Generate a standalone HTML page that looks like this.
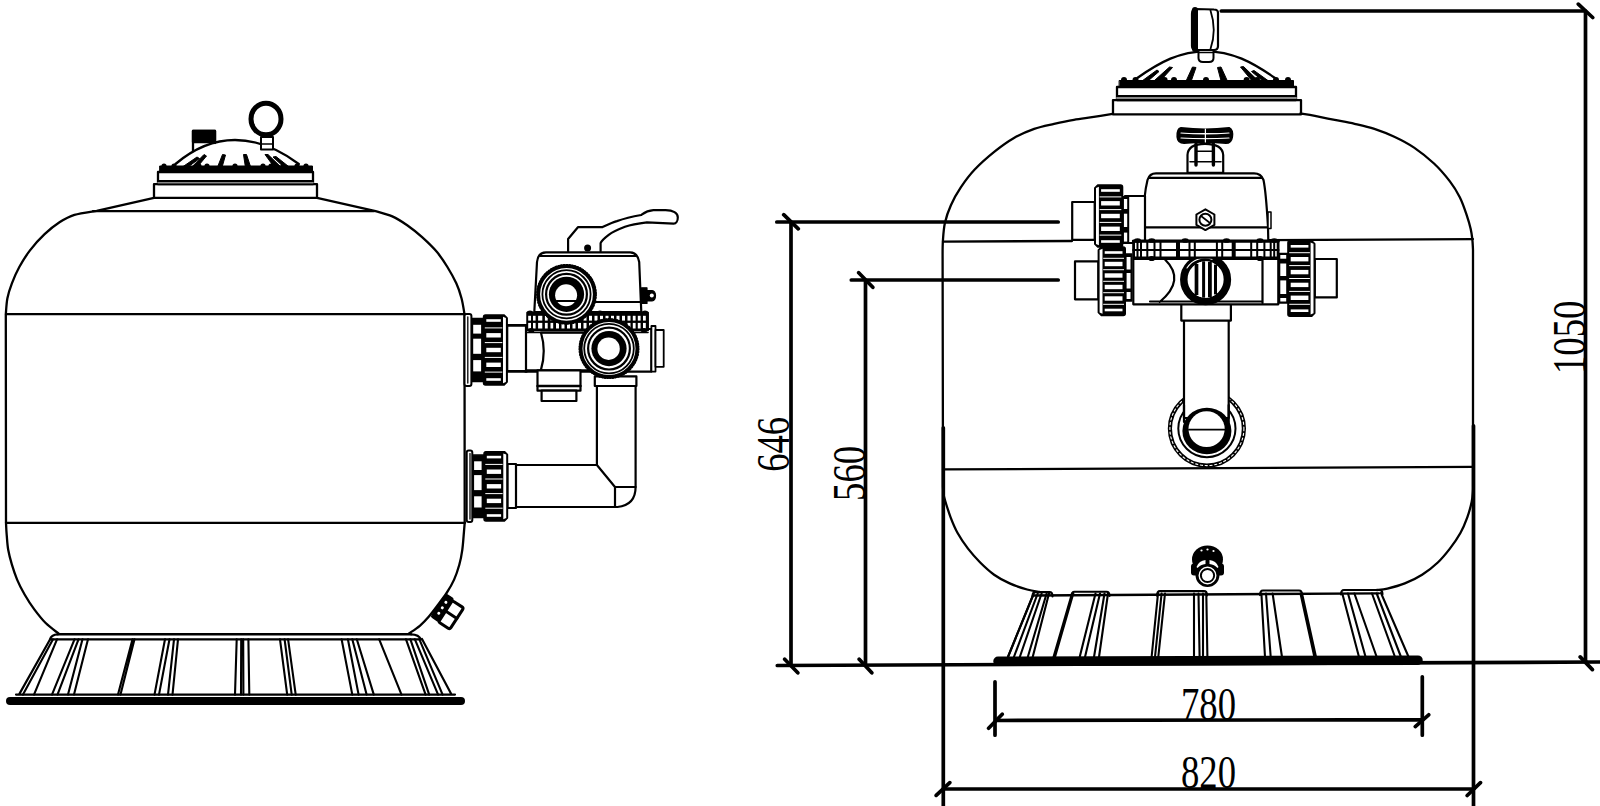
<!DOCTYPE html>
<html><head><meta charset="utf-8"><style>
html,body{margin:0;padding:0;background:#fff;width:1600px;height:806px;overflow:hidden}
svg{display:block}
text{font-family:"Liberation Serif",serif}
</style></head><body>
<svg width="1600" height="806" viewBox="0 0 1600 806">
<g fill="none" stroke="#000" stroke-width="2.3" stroke-linejoin="round" stroke-linecap="round">
<path d="M154,197.9 L96.7,210.8 C93.0,211.5 80.6,213.0 74.4,214.9 C68.2,216.8 64.5,219.1 59.5,222.3 C54.5,225.5 49.6,229.5 44.6,234.2 C39.6,238.9 34.0,245.1 29.8,250.6 C25.6,256.1 22.3,261.6 19.3,267 C16.3,272.4 13.9,278.1 11.9,283.3 C9.9,288.5 8.4,293.1 7.4,298.2 C6.4,303.3 6.1,311.5 5.8,314.2 L6,522.8 C6.1,524.8 6.3,530.4 6.7,534.9 C7.1,539.4 7.3,544.8 8.2,549.8 C9.1,554.8 10.4,559.7 11.9,564.7 C13.4,569.7 15.0,574.6 17.1,579.6 C19.2,584.6 21.7,589.5 24.6,594.5 C27.5,599.5 30.8,604.7 34.3,609.4 C37.8,614.1 41.4,618.8 45.4,622.8 C49.4,626.8 56.3,631.7 58.5,633.5  M317,197.9 L374.5,210.8 C377.5,211.7 386.9,214.0 392.3,216.4 C397.8,218.8 402.2,221.8 407.2,225.3 C412.2,228.8 417.1,232.7 422.1,237.2 C427.1,241.7 432.8,247.1 437,252.1 C441.2,257.1 444.2,261.8 447.4,267 C450.6,272.2 453.9,278.1 456.3,283.3 C458.7,288.5 460.1,293.1 461.5,298.2 C462.9,303.3 464.0,311.5 464.5,314.2 L464.7,522.8 C464.5,524.8 464.1,530.4 463.7,534.9 C463.3,539.4 463.0,544.8 462.3,549.8 C461.6,554.8 460.7,559.7 459.3,564.7 C457.9,569.7 456.2,574.9 454.1,579.6 C452.0,584.3 449.4,588.7 446.6,593 C443.8,597.3 440.5,601.5 437.5,605.5 C434.5,609.5 431.6,613.4 428.7,616.8 C425.8,620.2 423.1,623.0 419.8,625.8 C416.5,628.6 410.8,632.2 409,633.5 "/>
<path d="M93,211.2 L374,211.2 M6,314.2 L465,314.2 M6,522.8 L465,522.8"/>
<rect x="154" y="184.2" width="163" height="13.7"/>
<rect x="158" y="172" width="155" height="12.2"/>
<path d="M158,182.6 L313,182.6" stroke="#888" stroke-width="1.6"/><path d="M158,180.9 L313,180.9" stroke-width="2"/>
<path d="M160,166 L312.5,166 L312.5,172 L160,172 Z" fill="#000" stroke-width="1"/>
<circle cx="164" cy="166" r="2.6" fill="#000" stroke="none"/>
<circle cx="174" cy="166" r="2.6" fill="#000" stroke="none"/>
<circle cx="199" cy="166" r="2.6" fill="#000" stroke="none"/>
<circle cx="207" cy="166" r="2.6" fill="#000" stroke="none"/>
<circle cx="235" cy="166" r="2.6" fill="#000" stroke="none"/>
<circle cx="263" cy="166" r="2.6" fill="#000" stroke="none"/>
<circle cx="271" cy="166" r="2.6" fill="#000" stroke="none"/>
<circle cx="283" cy="166" r="2.6" fill="#000" stroke="none"/>
<circle cx="297" cy="166" r="2.6" fill="#000" stroke="none"/>
<circle cx="306" cy="166" r="2.6" fill="#000" stroke="none"/>
<path d="M193,151 L193,131 L215,131 L215,143" fill="#fff"/>
<rect x="193" y="131" width="22" height="11" fill="#000"/>
<path d="M175.5,164 C192,150 212,140 235,140 C258,140 280,150 298.8,164" fill="none"/>
<path d="M178,170 L197,157 L199.5,158.5 L184,170 Z" fill="#000" stroke-width="1"/>
<path d="M188,171 L204,154.5 L206.5,156 L194,171 Z" fill="#000" stroke-width="1"/>
<path d="M216,171 L222.5,154.5 L225.5,155 L221,171 Z" fill="#000" stroke-width="1"/>
<path d="M246,171 L243.5,154.5 L246.5,154.5 L252,171 Z" fill="#000" stroke-width="1"/>
<path d="M277,171 L265,154.5 L268,154.5 L284,170 Z" fill="#000" stroke-width="1"/>
<path d="M287,170 L273,157 L276,156.5 L293,170 Z" fill="#000" stroke-width="1"/>
<rect x="261" y="137" width="12" height="12.5" fill="#fff" stroke-width="2"/>
<path d="M261,144 L273,144" stroke-width="1.6"/>
<ellipse cx="266" cy="119" rx="15" ry="15.8" stroke-width="5"/>
<path d="M58,634.3 L411,634.3" stroke-width="2.4"/>
<path d="M50.5,639.3 L420.5,639.3 M50,639.5 Q51,634.5 58,634.3 M411,634.3 Q419,634.5 421,639.5" stroke-width="2.2"/>
<path d="M50,639.5 L19,694.6 M422,639 L451.5,694.6 M16,694.6 L455,694.6" stroke-width="2.2"/>
<path d="M53,639.3 L23,694.6 M57,639.3 L34,694.6 M74.5,639.3 L52,694.6 M78.5,639.3 L57.5,694.6 M82.5,639.3 L68,694.6 M88,639.3 L74,694.6 M132.5,639.3 L118,694.6 M134.5,639.3 L120.5,694.6 M165,639.3 L154.5,694.6 M169.5,639.3 L159,694.6 M174,639.3 L168,694.6 M178,639.3 L172.5,694.6 M236.7,639.3 L235,694.6 M241.2,639.3 L241,694.6 M243.2,639.3 L243.4,694.6 M248.4,639.3 L249.3,694.6 M280,639.3 L287.2,694.6 M284.6,639.3 L291.7,694.6 M288.1,639.3 L295.7,694.6 M341.6,639.3 L352.3,694.6 M347.9,639.3 L358.6,694.6 M352.3,639.3 L366.6,694.6 M356.8,639.3 L373.8,694.6 M379.2,639.3 L401.5,694.6 M406,639.3 L425.6,694.6 M410.4,639.3 L429.2,694.6 M414.9,639.3 L438.1,694.6 M419.4,639.3 L442.6,694.6 " stroke-width="2.1"/>
<path d="M10,701 L461,701" stroke-width="8"/>
</g>
<g fill="#fff" stroke="#000" stroke-width="2.2" stroke-linejoin="round" stroke-linecap="round">
<path d="M568.1,251.2 L568.1,239 L577.9,227.2 L602.2,227.2 C608,224.5 612,222.5 616.9,221.1 C625,218.3 633,216.5 641.2,215 C644,213 647,210.6 653.4,210.2 L665.6,210.2 C673,210.2 678,213 677.8,217.5 C677.8,221 676,223.6 673.7,223.6 L646.9,222.3 C638,223.3 631,224.5 625,226.8 C618,229.5 612.5,232 608.7,234.9 C604,238.5 601.5,241 600.6,243.1 L600.6,251.2"/>
<circle cx="587.6" cy="248" r="2.4" fill="#000"/>
<path d="M534.3,312 L537,262 Q538,252.3 546,252.3 L630,252.3 Q637.5,252.3 639.2,262 L641.3,312 Z"/>
<path d="M540,256 L636,256 M595,302 L641.3,302" fill="none"/>
<path d="M641.5,287.8 L647,287.8 L647,290.5 L652,290.5 Q655.5,291 655.5,295.6 Q655.5,300.5 652,301 L647,301 L647,303.5 L641.5,303.5 Z" fill="#000" stroke-width="1.2"/>
<circle cx="651.8" cy="295.6" r="2" fill="#fff" stroke="none"/>
<rect x="506.8" y="325.2" width="20" height="46.4"/>
<rect x="525.2" y="329" width="126.2" height="42.6"/>
<path d="M541,332.7 Q546.5,351 541,369.6 M541,332.7 L600,332.7 M525.2,370.3 L600,370.3" fill="none"/>
<rect x="651.4" y="326" width="4.1" height="45.6" stroke-width="1.8"/>
<rect x="655.5" y="330" width="8.2" height="36.8" stroke-width="1.8"/>
<rect x="537.5" y="370.3" width="43" height="20.4"/>
<path d="M537.5,386 L580.5,386" fill="none" stroke-width="2.5"/>
<rect x="541.6" y="390.7" width="34.8" height="10.3"/>
<path d="M596.9,386 L596.9,465 L514.7,465 L514.7,507 L617.5,507 Q635.6,505 635.6,487 L635.6,386 Z"/>
<path d="M596.9,465 L615,487 L615,507 M615,487 L635.6,487" fill="none"/>
<rect x="594.8" y="376.4" width="41.6" height="9.6"/>
<rect x="527" y="312.4" width="121.2" height="18" fill="#000" stroke-width="1.5"/>
<path d="M527,332.5 L648,332.5" stroke-width="1.6"/>
<rect x="528.2" y="315.8" width="2.8" height="4.8" fill="#fff" stroke="none"/>
<rect x="528.2" y="322.9" width="2.8" height="5.6" fill="#fff" stroke="none"/>
<rect x="533" y="315.8" width="2.6" height="4.8" fill="#fff" stroke="none"/>
<rect x="533" y="322.9" width="2.6" height="5.6" fill="#fff" stroke="none"/>
<rect x="538.1" y="315.8" width="4.2" height="4.8" fill="#fff" stroke="none"/>
<rect x="538.1" y="322.9" width="4.2" height="5.6" fill="#fff" stroke="none"/>
<rect x="544.9" y="315.8" width="2.8" height="4.8" fill="#fff" stroke="none"/>
<rect x="544.9" y="322.9" width="2.8" height="5.6" fill="#fff" stroke="none"/>
<rect x="550.5" y="315.8" width="2.7" height="4.8" fill="#fff" stroke="none"/>
<rect x="550.5" y="322.9" width="2.7" height="5.6" fill="#fff" stroke="none"/>
<rect x="556" y="315.8" width="3" height="4.8" fill="#fff" stroke="none"/>
<rect x="556" y="322.9" width="3" height="5.6" fill="#fff" stroke="none"/>
<rect x="561.5" y="315.8" width="3" height="4.8" fill="#fff" stroke="none"/>
<rect x="561.5" y="322.9" width="3" height="5.6" fill="#fff" stroke="none"/>
<rect x="567" y="315.8" width="3" height="4.8" fill="#fff" stroke="none"/>
<rect x="567" y="322.9" width="3" height="5.6" fill="#fff" stroke="none"/>
<rect x="572.5" y="315.8" width="3" height="4.8" fill="#fff" stroke="none"/>
<rect x="572.5" y="322.9" width="3" height="5.6" fill="#fff" stroke="none"/>
<rect x="578" y="315.8" width="3" height="4.8" fill="#fff" stroke="none"/>
<rect x="578" y="322.9" width="3" height="5.6" fill="#fff" stroke="none"/>
<rect x="583.5" y="315.8" width="3" height="4.8" fill="#fff" stroke="none"/>
<rect x="583.5" y="322.9" width="3" height="5.6" fill="#fff" stroke="none"/>
<rect x="589" y="315.8" width="3" height="4.8" fill="#fff" stroke="none"/>
<rect x="589" y="322.9" width="3" height="5.6" fill="#fff" stroke="none"/>
<rect x="594.5" y="315.8" width="3" height="4.8" fill="#fff" stroke="none"/>
<rect x="594.5" y="322.9" width="3" height="5.6" fill="#fff" stroke="none"/>
<rect x="600" y="315.8" width="3" height="4.8" fill="#fff" stroke="none"/>
<rect x="600" y="322.9" width="3" height="5.6" fill="#fff" stroke="none"/>
<rect x="605.5" y="315.8" width="3" height="4.8" fill="#fff" stroke="none"/>
<rect x="605.5" y="322.9" width="3" height="5.6" fill="#fff" stroke="none"/>
<rect x="611" y="315.8" width="3" height="4.8" fill="#fff" stroke="none"/>
<rect x="611" y="322.9" width="3" height="5.6" fill="#fff" stroke="none"/>
<rect x="616.5" y="315.8" width="3" height="4.8" fill="#fff" stroke="none"/>
<rect x="616.5" y="322.9" width="3" height="5.6" fill="#fff" stroke="none"/>
<rect x="622" y="315.8" width="3" height="4.8" fill="#fff" stroke="none"/>
<rect x="622" y="322.9" width="3" height="5.6" fill="#fff" stroke="none"/>
<rect x="627.5" y="315.8" width="3" height="4.8" fill="#fff" stroke="none"/>
<rect x="627.5" y="322.9" width="3" height="5.6" fill="#fff" stroke="none"/>
<rect x="632.8" y="315.8" width="2.8" height="4.8" fill="#fff" stroke="none"/>
<rect x="632.8" y="322.9" width="2.8" height="5.6" fill="#fff" stroke="none"/>
<rect x="637.8" y="315.8" width="2.8" height="4.8" fill="#fff" stroke="none"/>
<rect x="637.8" y="322.9" width="2.8" height="5.6" fill="#fff" stroke="none"/>
<rect x="643" y="315.8" width="2.8" height="4.8" fill="#fff" stroke="none"/>
<rect x="643" y="322.9" width="2.8" height="5.6" fill="#fff" stroke="none"/>
<ellipse cx="531.3" cy="330.5" rx="3" ry="2.6" fill="#000" stroke="none"/>
<ellipse cx="644" cy="330.5" rx="3" ry="2.6" fill="#000" stroke="none"/>
<ellipse cx="530" cy="312.3" rx="3" ry="1.8" fill="#000" stroke="none"/>
<ellipse cx="600" cy="312.3" rx="3" ry="1.8" fill="#000" stroke="none"/>
<ellipse cx="645" cy="312.3" rx="3" ry="1.8" fill="#000" stroke="none"/>
<circle cx="566.5" cy="294.3" r="28.2" stroke-width="3.6"/>
<circle cx="566.5" cy="294.3" r="29.8" fill="none" stroke-width="1.2" stroke-dasharray="1.4 1.4"/>
<circle cx="566.5" cy="294.3" r="24.1" fill="none" stroke-width="1.8"/>
<circle cx="566.5" cy="294.3" r="20.4" fill="none" stroke-width="2.2"/>
<circle cx="566.5" cy="294.3" r="17.6" fill="#000" stroke="none"/>
<circle cx="566.1" cy="295.2" r="11.0" fill="#fff" stroke="none"/>
<path d="M556.7,301 L576.3,301" stroke-width="2.2"/>
<circle cx="609" cy="348.6" r="28.3" stroke-width="3.6"/>
<circle cx="609" cy="348.6" r="29.900000000000002" fill="none" stroke-width="1.2" stroke-dasharray="1.4 1.4"/>
<circle cx="609" cy="348.6" r="24.8" fill="none" stroke-width="1.8"/>
<circle cx="609" cy="348.6" r="20.9" fill="none" stroke-width="2.2"/>
<circle cx="609" cy="348.6" r="17.6" fill="#000" stroke="none"/>
<circle cx="608.6" cy="348.70000000000005" r="11.2" fill="#fff" stroke="none"/>
<rect x="507.2" y="325.6" width="18.80000000000001" height="45.39999999999998"/>
<rect x="471.4" y="318.5" width="12.100000000000023" height="63" fill="#000" stroke-width="1.5"/>
<rect x="473.2" y="324.8" width="7.9" height="8.8" fill="#fff" stroke="none"/>
<rect x="473.2" y="338.7" width="7.9" height="15.1" fill="#fff" stroke="none"/>
<rect x="473.2" y="360.1" width="7.9" height="11.3" fill="#fff" stroke="none"/>
<rect x="464.5" y="314" width="6.9" height="72.0" rx="2" stroke-width="2"/>
<path d="M467.8,317 L467.8,383" stroke-width="1.3"/>
<path d="M485.5,315 L504.2,315 L507.2,318.0 L507.2,382.0 L504.2,385 L485.5,385 Q483.5,385 483.5,383 L483.5,317 Q483.5,315 485.5,315 Z" fill="#000" stroke-width="1.4"/>
<path d="M505.9,318.0 L503.0,316.8 L503.0,383.2 L505.9,382.0 Z" fill="#fff" stroke="none"/>
<rect x="486.3" y="319.2" width="14.5" height="2.6" fill="#fff" stroke="none"/>
<rect x="484.8" y="327.4" width="17.5" height="1" fill="#fff" stroke="none"/>
<rect x="486.3" y="333.1" width="14.5" height="4.4" fill="#fff" stroke="none"/>
<rect x="484.8" y="342.1" width="17.5" height="1" fill="#fff" stroke="none"/>
<rect x="486.3" y="347.8" width="14.5" height="4.4" fill="#fff" stroke="none"/>
<rect x="484.8" y="356.9" width="17.5" height="1" fill="#fff" stroke="none"/>
<rect x="486.3" y="362.6" width="14.5" height="4.4" fill="#fff" stroke="none"/>
<rect x="484.8" y="371.6" width="17.5" height="1" fill="#fff" stroke="none"/>
<rect x="486.3" y="378.2" width="14.5" height="2.6" fill="#fff" stroke="none"/>
<rect x="507.5" y="464" width="8.5" height="44"/>
<rect x="472.3" y="455.1" width="11.699999999999989" height="62.39999999999998" fill="#000" stroke-width="1.5"/>
<rect x="474.1" y="461.3" width="7.5" height="8.7" fill="#fff" stroke="none"/>
<rect x="474.1" y="475.1" width="7.5" height="15.0" fill="#fff" stroke="none"/>
<rect x="474.1" y="496.3" width="7.5" height="11.2" fill="#fff" stroke="none"/>
<rect x="466.7" y="450.6" width="5.6" height="71.4" rx="2" stroke-width="2"/>
<path d="M470.0,453.6 L470.0,519" stroke-width="1.3"/>
<path d="M486,451.6 L504.5,451.6 L507.5,454.6 L507.5,518.0 L504.5,521 L486,521 Q484,521 484,519 L484,453.6 Q484,451.6 486,451.6 Z" fill="#000" stroke-width="1.4"/>
<path d="M506.2,454.6 L503.3,453.40000000000003 L503.3,519.2 L506.2,518.0 Z" fill="#fff" stroke="none"/>
<rect x="486.8" y="455.8" width="14.3" height="2.6" fill="#fff" stroke="none"/>
<rect x="485.3" y="463.9" width="17.3" height="1" fill="#fff" stroke="none"/>
<rect x="486.8" y="469.5" width="14.3" height="4.4" fill="#fff" stroke="none"/>
<rect x="485.3" y="478.5" width="17.3" height="1" fill="#fff" stroke="none"/>
<rect x="486.8" y="484.1" width="14.3" height="4.4" fill="#fff" stroke="none"/>
<rect x="485.3" y="493.1" width="17.3" height="1" fill="#fff" stroke="none"/>
<rect x="486.8" y="498.7" width="14.3" height="4.4" fill="#fff" stroke="none"/>
<rect x="485.3" y="507.7" width="17.3" height="1" fill="#fff" stroke="none"/>
<rect x="486.8" y="514.2" width="14.3" height="2.6" fill="#fff" stroke="none"/>
<g transform="translate(448.5,613) rotate(33)"><rect x="-12.5" y="-14.5" width="9" height="27" rx="1.5" fill="#000" stroke-width="1.5"/><circle cx="-8" cy="-7.5" r="1.5" fill="#fff" stroke="none"/><circle cx="-8" cy="-1" r="1.5" fill="#fff" stroke="none"/><circle cx="-8" cy="5.5" r="1.5" fill="#fff" stroke="none"/><rect x="-3.5" y="-12.5" width="13.5" height="25.5" rx="2" stroke-width="3"/><path d="M-3.5,0 L10,0" stroke-width="3"/></g>
</g>
<g fill="none" stroke="#000" stroke-width="2.3" stroke-linejoin="round" stroke-linecap="round">
<path d="M1112.6,113.9 C1109.5,114.4 1100.2,115.9 1093.8,116.9 C1087.3,117.9 1080.5,118.7 1073.9,119.8 C1067.3,120.9 1060.7,122.3 1054.1,123.8 C1047.5,125.3 1040.8,126.5 1034.2,128.8 C1027.6,131.1 1021.0,133.9 1014.4,137.7 C1007.8,141.5 1001.1,146.3 994.5,151.6 C987.9,156.9 980.3,163.6 974.7,169.5 C969.1,175.4 964.8,181.4 960.8,187.3 C956.8,193.2 953.5,199.2 950.9,205.2 C948.2,211.1 946.2,217.1 944.9,223 C943.6,228.9 943.3,235.1 942.9,240.9 C942.5,246.7 942.6,255.2 942.6,258  L943,487 C943.1,488.3 943.2,492.4 943.6,494.8 C944.0,497.2 944.2,497.9 945.4,501.7 C946.6,505.4 948.6,512.1 950.6,517.3 C952.6,522.5 954.7,527.8 957.6,533 C960.5,538.2 964.2,543.7 968,548.6 C971.8,553.5 975.9,558.1 980.2,562.5 C984.6,566.9 989.2,571.2 994.1,574.7 C999.0,578.2 1004.2,580.9 1009.7,583.4 C1015.2,585.9 1022.2,588.1 1027.1,589.5 C1032.0,590.9 1037.3,591.6 1039.3,592  M1300.5,113.5 C1302.9,113.9 1309.2,114.8 1314.9,115.9 C1320.6,117.0 1328.1,118.6 1334.7,119.9 C1341.3,121.2 1348.0,122.3 1354.6,123.8 C1361.2,125.3 1367.8,126.7 1374.4,128.8 C1381.0,131.0 1387.7,133.6 1394.3,136.7 C1400.9,139.8 1407.5,143.1 1414.1,147.6 C1420.7,152.1 1428.0,157.9 1434,163.5 C1440.0,169.1 1445.6,175.8 1449.9,181.4 C1454.2,187.0 1457.0,191.7 1459.8,197.3 C1462.6,202.9 1464.9,209.8 1466.7,215.1 C1468.5,220.4 1469.8,225.0 1470.7,229 C1471.6,233.0 1471.9,235.5 1472.3,239 C1472.7,242.5 1472.9,248.2 1473,250  L1473,486 C1473.0,486.9 1473.1,488.7 1472.9,491.3 C1472.7,493.9 1472.6,497.4 1471.7,501.7 C1470.8,506.0 1469.2,512.1 1467.3,517.3 C1465.4,522.5 1463.3,527.8 1460.4,533 C1457.5,538.2 1453.7,543.7 1449.9,548.6 C1446.1,553.5 1442.4,558.1 1437.8,562.5 C1433.2,566.9 1427.6,571.2 1422.1,574.7 C1416.6,578.2 1410.6,581.1 1404.8,583.4 C1399.0,585.7 1392.0,587.5 1387.4,588.6 C1382.8,589.7 1378.7,589.8 1377,590 "/>
<path d="M943,241.6 L1072,241 M1269,240.1 L1473,239.1 M943,469.4 L1473,466.8"/>
<rect x="1113" y="100.1" width="188" height="14.3"/>
<rect x="1117" y="87" width="179" height="13.1"/>
<path d="M1117,98.1 L1296,98.1" stroke="#888" stroke-width="2"/><path d="M1117,96.1 L1296,96.1" stroke-width="2"/>
<path d="M1119.5,80.5 L1293.5,80.5 L1293.5,87 L1119.5,87 Z" fill="#000" stroke-width="1"/>
<circle cx="1124" cy="80" r="3" fill="#000" stroke="none"/>
<circle cx="1135.5" cy="80" r="3" fill="#000" stroke="none"/>
<circle cx="1164.6" cy="80" r="3" fill="#000" stroke="none"/>
<circle cx="1174" cy="80" r="3" fill="#000" stroke="none"/>
<circle cx="1206" cy="80" r="3" fill="#000" stroke="none"/>
<circle cx="1246.6" cy="80" r="3" fill="#000" stroke="none"/>
<circle cx="1257" cy="80" r="3" fill="#000" stroke="none"/>
<circle cx="1276" cy="80" r="3" fill="#000" stroke="none"/>
<circle cx="1288" cy="80" r="3" fill="#000" stroke="none"/>
<path d="M1137.3,78 C1160,62 1180,51.3 1206,51.3 C1232,51.3 1252,62 1275,78" fill="none"/>
<path d="M1142,81 L1157,70 L1159,71.5 L1148,81 Z" fill="#000" stroke-width="1"/>
<path d="M1150,84.5 L1169.5,67 L1172.5,67.5 L1157,84.5 Z" fill="#000" stroke-width="1"/>
<path d="M1184.5,84.5 L1192.5,67 L1196,67.5 L1190,84.5 Z" fill="#000" stroke-width="1"/>
<path d="M1222,84.5 L1217.5,67.5 L1221,67 L1229,84.5 Z" fill="#000" stroke-width="1"/>
<path d="M1255,84.5 L1240.5,67 L1243.5,66.5 L1262,84.5 Z" fill="#000" stroke-width="1"/>
<path d="M1264,82 L1251.5,71.5 L1254,70.5 L1270,82 Z" fill="#000" stroke-width="1"/>
<path d="M1198.5,47 L1198.5,58 Q1198.5,62 1203,62 L1209,62 Q1213.5,62 1213.5,58 L1213.5,47 Z" fill="#fff" stroke-width="2"/>
<path d="M1198.5,52.5 L1213.5,52.5" stroke-width="1.6"/>
<path d="M1195,9 Q1192,9 1192,14 L1192,46 Q1192,50 1196,50 L1214,50 Q1218,50 1218,46 L1218,13 Q1218,9.5 1214,9.5 Z" fill="#fff" stroke-width="2.2"/>
<path d="M1195,10 L1195,49" stroke-width="6"/>
<path d="M1210.5,10.5 Q1217,30 1210.5,49" stroke-width="1.8"/>
<path d="M1033,595.5 L1379,593.3" stroke-width="2.3"/>
<path d="M1033,595.5 L1008,657 M1381,593 L1408.4,656.5" stroke-width="2.1"/>
<path d="M1032.5,596.5 Q1032.5,592.1 1035.5,592.1 L1049.5,592.1 Q1052.5,592.1 1052.5,596.4 M1071.5,596.3 Q1071.5,591.7 1074.5,591.7 L1106.5,591.7 Q1109.5,591.7 1109.5,596.0 M1157,595.7 Q1157,591.1 1160,591.1 L1204,591.1 Q1207,591.1 1207,595.4 M1260,595.1 Q1260,590.5 1263,590.5 L1299,590.5 Q1302,590.5 1302,594.8 M1341,594.5 Q1341,590.0 1344,590.0 L1379.5,590.0 Q1382.5,590.0 1382.5,594.3 " fill="none" stroke-width="2.1"/>
<path d="M1033.7,593.5 L1007.9,657 M1037.7,593.5 L1013.9,657 M1041.6,593.5 L1019.8,657 M1046.6,593.5 L1027.8,657 M1049,593.5 L1032.7,657 M1072,593.5 L1053.5,657 M1073.3,593.5 L1055,657 M1095.5,593.5 L1079.7,657 M1100,593.5 L1085,657 M1104.5,593.5 L1094,657 M1108,593.5 L1099,657 M1158,593.5 L1151.6,657 M1161.6,593.5 L1155,657 M1165,593.5 L1158.3,657 M1194,593.5 L1194,657 M1198.5,593.5 L1199.6,657 M1203,593.5 L1203,657 M1206.3,593.5 L1207.4,657 M1261.4,593.5 L1265,657 M1266,593.5 L1270.7,657 M1272.6,593.5 L1282,657 M1300.5,593.5 L1314.4,657 M1302,593.5 L1316,657 M1342.3,593.5 L1359,657 M1348,593.5 L1365.6,657 M1354.4,593.5 L1376.7,657 M1372,593.5 L1395,657 M1376.7,593.5 L1401,657 " stroke-width="2.1"/>
<path d="M998,661.3 L1418,660.2" stroke-width="9.5"/>
</g>
<g fill="#fff" stroke="#000" stroke-width="2.2" stroke-linejoin="round" stroke-linecap="round">
<circle cx="1206.9" cy="428.6" r="37" stroke-width="4.2"/>
<circle cx="1206.9" cy="428.6" r="37" fill="none" stroke="#fff" stroke-width="1.1" stroke-dasharray="2.2 2.6"/>
<circle cx="1206.9" cy="428.6" r="28.6" fill="none" stroke-width="2"/>
<rect x="1184" y="315" width="44.7" height="103" />
<ellipse cx="1206.9" cy="431" rx="24.5" ry="23.2" fill="#000" stroke="none"/>
<ellipse cx="1206.6" cy="429.1" rx="18.1" ry="17.9" fill="#fff" stroke="none"/>
<path d="M1184,405 L1184,422 M1228.7,405 L1228.7,422" fill="none"/>
<path d="M1189,429.7 L1224.5,429.7" fill="none" stroke-width="1.8"/>
<rect x="1181.3" y="304" width="49.6" height="16.6"/>
<path d="M1187.5,172.8 L1187.5,155 Q1188,143.8 1205,143.8 Q1222.5,143.8 1223.2,155 L1223.2,172.8 Z"/>
<path d="M1196,144 L1196,165 M1213.4,144 L1213.4,165" stroke-width="3.4"/>
<path d="M1197,151.3 L1214,151.3 M1190,161.7 L1221,161.7" stroke-width="1.6"/>
<path d="M1181,128 Q1205,131 1229,128 Q1233,130 1232,137 Q1231,143 1226,143 Q1205,141 1184,143 Q1178,143 1177.5,137 Q1177,129 1181,128 Z" fill="#000"/>
<path d="M1181,133 Q1205,135 1229,133 M1181,138 Q1205,139.5 1229,138 M1205.4,129 L1205.4,142" stroke="#fff" stroke-width="1.2"/>
<path d="M1143.2,241 L1143.2,222 C1143.5,205 1145,190 1147.5,180 Q1149.5,173.4 1156,173.4 L1254,173.4 Q1261,173.4 1263.5,180 C1266,192 1267,210 1268,227 L1268.3,241 Z"/>
<path d="M1149.5,177.9 L1262,177.9 M1143.2,227.4 L1268,227.4" fill="none"/>
<path d="M1205.4,209.3 L1214.4,214.5 L1214.4,224.9 L1205.4,230.1 L1196.4,224.9 L1196.4,214.5 Z" stroke-width="2"/>
<circle cx="1205.4" cy="219.7" r="6" fill="none" stroke-width="2"/>
<path d="M1201,216 L1210,223" stroke-width="1.6"/>
<rect x="1268" y="212" width="3" height="16.6" stroke-width="1.5"/>
<rect x="1125" y="196" width="20" height="47"/>
<rect x="1133.3" y="258.9" width="145" height="45.4"/>
<path d="M1165,259.5 Q1186,280 1159.7,302 M1262.5,259 L1262.5,303 M1150,301.5 L1262,301.5" fill="none"/>
<circle cx="1205.6" cy="279.6" r="21.8" fill="#fff" stroke-width="7.5"/>
<path d="M1187,268 A21.4,21.4 0 0 1 1212,259.2" fill="none" stroke="#fff" stroke-width="1.1"/>
<ellipse cx="1205.6" cy="279.5" rx="17" ry="18.3" fill="#fff" stroke="none"/>
<path d="M1196.5,264.0 L1196.5,295.0" stroke-width="3.7" stroke-linecap="butt"/>
<path d="M1203.6,261.3 L1203.6,297.7" stroke-width="3" stroke-linecap="butt"/>
<path d="M1209.9,261.8 L1209.9,297.2" stroke-width="3.8" stroke-linecap="butt"/>
<path d="M1215.5,264.6 L1215.5,294.4" stroke-width="3" stroke-linecap="butt"/>
<rect x="1133.3" y="241.3" width="145.1" height="16.4" fill="#fff" stroke-width="2.2"/>
<path d="M1133.3,241 L1278.4,241" stroke-width="3"/>
<path d="M1133.3,250 L1278.4,250" stroke-width="2.2"/>
<path d="M1134,241 L1134,257.5 M1137.5,241 L1137.5,257.5 M1141,241 L1141,257.5 M1147.3,241 L1147.3,257.5 M1154.5,241 L1154.5,257.5 M1160.5,241 L1160.5,257.5 M1177,241 L1177,257.5 M1179,241 L1179,257.5 M1189.5,241 L1189.5,257.5 M1194.8,241 L1194.8,257.5 M1277.7,241 L1277.7,257.5 M1274.2,241 L1274.2,257.5 M1270.7,241 L1270.7,257.5 M1264.4,241 L1264.4,257.5 M1257.2,241 L1257.2,257.5 M1251.2,241 L1251.2,257.5 M1234.7,241 L1234.7,257.5 M1232.7,241 L1232.7,257.5 M1222.2,241 L1222.2,257.5 M1216.9,241 L1216.9,257.5 " stroke-width="2"/>
<ellipse cx="1137.5" cy="240.5" rx="3.5" ry="2.3" fill="#000" stroke="none"/>
<ellipse cx="1274.2" cy="240.5" rx="3.5" ry="2.3" fill="#000" stroke="none"/>
<ellipse cx="1151.7" cy="240.5" rx="3.5" ry="2.3" fill="#000" stroke="none"/>
<ellipse cx="1260.0" cy="240.5" rx="3.5" ry="2.3" fill="#000" stroke="none"/>
<ellipse cx="1185.2" cy="240.5" rx="3.5" ry="2.3" fill="#000" stroke="none"/>
<ellipse cx="1226.5" cy="240.5" rx="3.5" ry="2.3" fill="#000" stroke="none"/>
<ellipse cx="1151.7" cy="258.5" rx="3.3" ry="2.6" fill="#000" stroke="none"/>
<ellipse cx="1260.0" cy="258.5" rx="3.3" ry="2.6" fill="#000" stroke="none"/>
<rect x="1072.2" y="202" width="22.5" height="37.8"/>
<rect x="1122.6" y="196.6" width="5.9" height="46.8" fill="#000" stroke-width="1.4"/>
<rect x="1123.9" y="199" width="3.3" height="10.0" fill="#fff" stroke="none"/>
<rect x="1123.9" y="213.7" width="3.3" height="13.3" fill="#fff" stroke="none"/>
<rect x="1123.9" y="232.6" width="3.3" height="9.0" fill="#fff" stroke="none"/>
<path d="M1097.7,185 L1120.6,185 Q1122.6,185 1122.6,187 L1122.6,245 Q1122.6,247 1120.6,247 L1097.7,247 L1094.7,244.0 L1094.7,188.0 Z" fill="#000" stroke-width="1.4"/>
<path d="M1096.0,188.0 L1098.9,186.8 L1098.9,245.2 L1096.0,244.0 Z" fill="#fff" stroke="none"/>
<rect x="1101.1000000000001" y="189.2" width="18.7" height="2.6" fill="#fff" stroke="none"/>
<rect x="1099.6" y="196.4" width="21.7" height="1" fill="#fff" stroke="none"/>
<rect x="1101.1000000000001" y="201.1" width="18.7" height="4.4" fill="#fff" stroke="none"/>
<rect x="1099.6" y="209.1" width="21.7" height="1" fill="#fff" stroke="none"/>
<rect x="1101.1000000000001" y="213.8" width="18.7" height="4.4" fill="#fff" stroke="none"/>
<rect x="1099.6" y="221.9" width="21.7" height="1" fill="#fff" stroke="none"/>
<rect x="1101.1000000000001" y="226.6" width="18.7" height="4.4" fill="#fff" stroke="none"/>
<rect x="1099.6" y="234.6" width="21.7" height="1" fill="#fff" stroke="none"/>
<rect x="1101.1000000000001" y="240.2" width="18.7" height="2.6" fill="#fff" stroke="none"/>
<rect x="1075" y="261.4" width="23.3" height="37.9"/>
<rect x="1125.3" y="254" width="6.5" height="47.0" fill="#000" stroke-width="1.4"/>
<rect x="1126.6" y="257" width="3.9" height="12.5" fill="#fff" stroke="none"/>
<rect x="1126.6" y="273" width="3.9" height="15.5" fill="#fff" stroke="none"/>
<rect x="1126.6" y="292" width="3.9" height="7.0" fill="#fff" stroke="none"/>
<path d="M1101.3,247 L1123.3,247 Q1125.3,247 1125.3,249 L1125.3,313.5 Q1125.3,315.5 1123.3,315.5 L1101.3,315.5 L1098.3,312.5 L1098.3,250.0 Z" fill="#000" stroke-width="1.4"/>
<path d="M1099.6,250.0 L1102.5,248.8 L1102.5,313.7 L1099.6,312.5 Z" fill="#fff" stroke="none"/>
<rect x="1104.7" y="251.2" width="17.8" height="2.6" fill="#fff" stroke="none"/>
<rect x="1103.2" y="257.8" width="20.8" height="1" fill="#fff" stroke="none"/>
<rect x="1104.7" y="261.8" width="17.8" height="4.4" fill="#fff" stroke="none"/>
<rect x="1103.2" y="269.2" width="20.8" height="1" fill="#fff" stroke="none"/>
<rect x="1104.7" y="273.3" width="17.8" height="4.4" fill="#fff" stroke="none"/>
<rect x="1103.2" y="280.8" width="20.8" height="1" fill="#fff" stroke="none"/>
<rect x="1104.7" y="284.8" width="17.8" height="4.4" fill="#fff" stroke="none"/>
<rect x="1103.2" y="292.2" width="20.8" height="1" fill="#fff" stroke="none"/>
<rect x="1104.7" y="296.3" width="17.8" height="4.4" fill="#fff" stroke="none"/>
<rect x="1103.2" y="303.8" width="20.8" height="1" fill="#fff" stroke="none"/>
<rect x="1104.7" y="308.7" width="17.8" height="2.6" fill="#fff" stroke="none"/>
<rect x="1314.8" y="259" width="22" height="38.4"/>
<rect x="1279" y="253.5" width="8.5" height="49.5" fill="#000" stroke-width="1.4"/>
<rect x="1280.3" y="255" width="5.9" height="3.7" fill="#fff" stroke="none"/>
<rect x="1280.3" y="263.5" width="5.9" height="12.5" fill="#fff" stroke="none"/>
<rect x="1280.3" y="280.4" width="5.9" height="13.6" fill="#fff" stroke="none"/>
<rect x="1280.3" y="298" width="5.9" height="3.5" fill="#fff" stroke="none"/>
<path d="M1289.9,240.8 L1311.8,240.8 L1314.8,243.8 L1314.8,313.2 L1311.8,316.2 L1289.9,316.2 Q1287.9,316.2 1287.9,314.2 L1287.9,242.8 Q1287.9,240.8 1289.9,240.8 Z" fill="#000" stroke-width="1.4"/>
<path d="M1313.5,243.8 L1310.6,242.60000000000002 L1310.6,314.4 L1313.5,313.2 Z" fill="#fff" stroke="none"/>
<rect x="1290.7" y="245.0" width="17.7" height="2.6" fill="#fff" stroke="none"/>
<rect x="1289.2" y="252.2" width="20.7" height="1" fill="#fff" stroke="none"/>
<rect x="1290.7" y="257.0" width="17.7" height="4.4" fill="#fff" stroke="none"/>
<rect x="1289.2" y="265.1" width="20.7" height="1" fill="#fff" stroke="none"/>
<rect x="1290.7" y="269.9" width="17.7" height="4.4" fill="#fff" stroke="none"/>
<rect x="1289.2" y="278.0" width="20.7" height="1" fill="#fff" stroke="none"/>
<rect x="1290.7" y="282.7" width="17.7" height="4.4" fill="#fff" stroke="none"/>
<rect x="1289.2" y="290.9" width="20.7" height="1" fill="#fff" stroke="none"/>
<rect x="1290.7" y="295.6" width="17.7" height="4.4" fill="#fff" stroke="none"/>
<rect x="1289.2" y="303.8" width="20.7" height="1" fill="#fff" stroke="none"/>
<rect x="1290.7" y="309.4" width="17.7" height="2.6" fill="#fff" stroke="none"/>
<g stroke-width="2">
<ellipse cx="1207.5" cy="559.5" rx="15.5" ry="14" fill="#000" stroke="none"/>
<rect x="1191" y="563.5" width="33" height="12" rx="3" fill="#000" stroke="none"/>
<circle cx="1207.5" cy="575" r="12" fill="#000" stroke="none"/>
<path d="M1196.5,567 Q1199,560.5 1205.5,560 L1205.5,564 Q1200.5,564.5 1197.5,568 Z M1218.5,567 Q1216,560.5 1209.5,560 L1209.5,564 Q1214.5,564.5 1217.5,568 Z" fill="#fff" stroke="none"/>
<circle cx="1201.5" cy="550.5" r="1.1" fill="#fff" stroke="none"/><circle cx="1207.5" cy="549.5" r="1.1" fill="#fff" stroke="none"/><circle cx="1213.5" cy="551" r="1.1" fill="#fff" stroke="none"/>
<circle cx="1207.5" cy="575.5" r="8.3" fill="none" stroke="#fff" stroke-width="1.4"/>
<circle cx="1207.5" cy="575.5" r="5.6" fill="#fff" stroke="none"/>
</g>
</g>
<g fill="none" stroke="#000" stroke-width="3.7" stroke-linecap="round" stroke-linejoin="round">
<path d="M1221.3,11 L1585.5,11 L1585.5,662 M777.3,665.5 L1600,662"/>
<path d="M776.8,222 L1058.2,222 M791,222 L791,665.5"/>
<path d="M851.3,280 L1058.2,280 M865.5,280 L865.5,665"/>
<path d="M943.3,427.8 L943.3,808 M1473.5,425.8 L1473.5,808 M943,789 L1474,789"/>
<path d="M995,681.8 L995,735.2 M1422.3,676.8 L1422.3,735.2 M995,720.5 L1422,719.7"/>
<path d="M783.7,214.7 L798.3,228.8 M858.7,272.7 L872.8,287.3 M784.7,659.2 L797.8,672.8 M859.2,659.2 L871.8,672.8 M1578.3,4.1 L1592.7,17.5 M1580.2,656.9 L1592.4,669.6 M936.2,795.4 L949.8,782.6 M1467.2,795.5 L1480.5,782.6 M988.6,728.2 L1002.2,714.2 M1415.3,726.6 L1428.7,714.8 "/>
</g>
<g font-size="47" fill="#000">
<text transform="translate(789.4,471.8) rotate(-90) scale(0.78,1)">646</text>
<text transform="translate(865.2,500.9) rotate(-90) scale(0.78,1)">560</text>
<text transform="translate(1585,374) rotate(-90) scale(0.78,1)">1050</text>
<text transform="translate(1181,720) scale(0.78,1)">780</text>
<text transform="translate(1181,787.8) scale(0.78,1)">820</text>
</g>
</svg>
</body></html>
